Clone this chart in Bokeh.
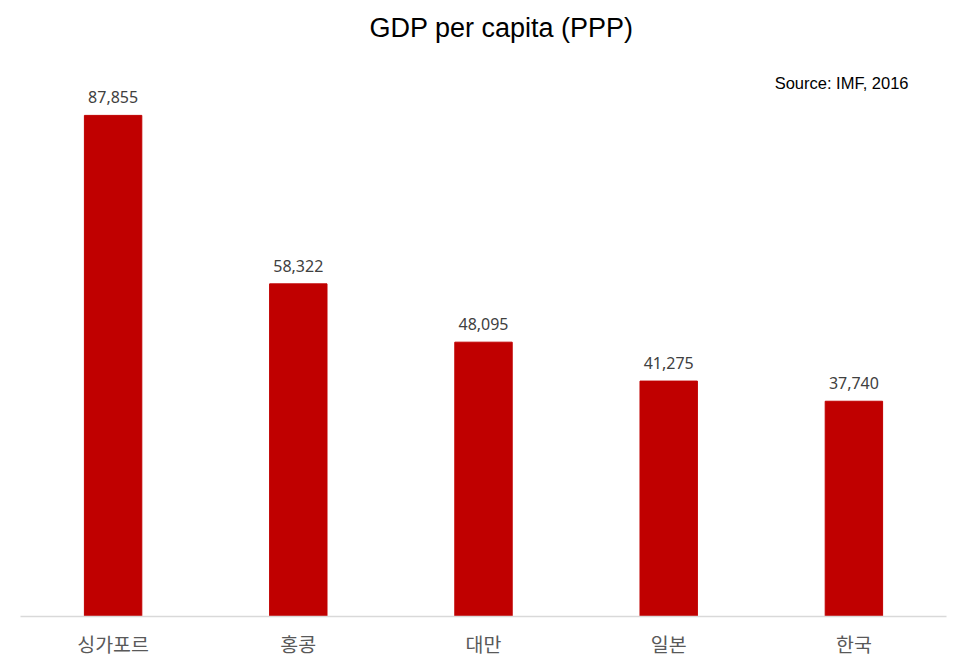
from bokeh.plotting import figure
from bokeh.models import ColumnDataSource, Label, Range1d
from bokeh.core.properties import value
from bokeh.embed import file_html
from bokeh.resources import INLINE

# data
countries = ["싱가포르", "홍콩", "대만", "일본", "한국"]
gdp = [87855, 58322, 48095, 41275, 37740]
gdp_labels = ["87,855", "58,322", "48,095", "41,275", "37,740"]

src = ColumnDataSource(data=dict(country=countries, gdp=gdp, lbl=gdp_labels))

p = figure(x_range=countries, y_range=Range1d(0, 108000),
           width=966, height=670, output_backend="svg", toolbar_location=None,
           min_border_left=20, min_border_right=20, min_border_top=0, min_border_bottom=54)
p.x_range.range_padding = 0

p.vbar(x="country", top="gdp", width=0.31, color="#C00000", source=src)
p.text(x="country", y="gdp", text="lbl", source=src, text_align="center",
       text_baseline="bottom", y_offset=-12, text_font=value("Noto Sans"),
       text_font_size="16px", text_color="#404040")

title = Label(x=2.597, y=103100, text="GDP per capita (PPP)", text_align="center",
              text_baseline="middle", text_font="Liberation Sans",
              text_font_size="27px", text_color="#000000")
p.add_layout(title)
source_note = Label(x=4.795, y=93460, text="Source: IMF, 2016", text_align="right",
                    text_baseline="middle", text_font="Liberation Sans",
                    text_font_size="16.5px", text_color="#000000")
p.add_layout(source_note)

p.yaxis.visible = False
p.xgrid.grid_line_color = None
p.ygrid.grid_line_color = None
p.outline_line_color = None
p.xaxis.axis_line_color = "#d9d9d9"
p.xaxis.axis_line_width = 1.5
p.xaxis.major_tick_line_color = None
p.xaxis.minor_tick_line_color = None
p.xaxis.major_label_text_font = "Noto Sans CJK KR"
p.xaxis.major_label_text_font_size = "19.5px"
p.xaxis.major_label_text_color = "#595959"
p.xaxis.major_label_standoff = 6

open("out.html", "w").write(file_html(p, INLINE))
